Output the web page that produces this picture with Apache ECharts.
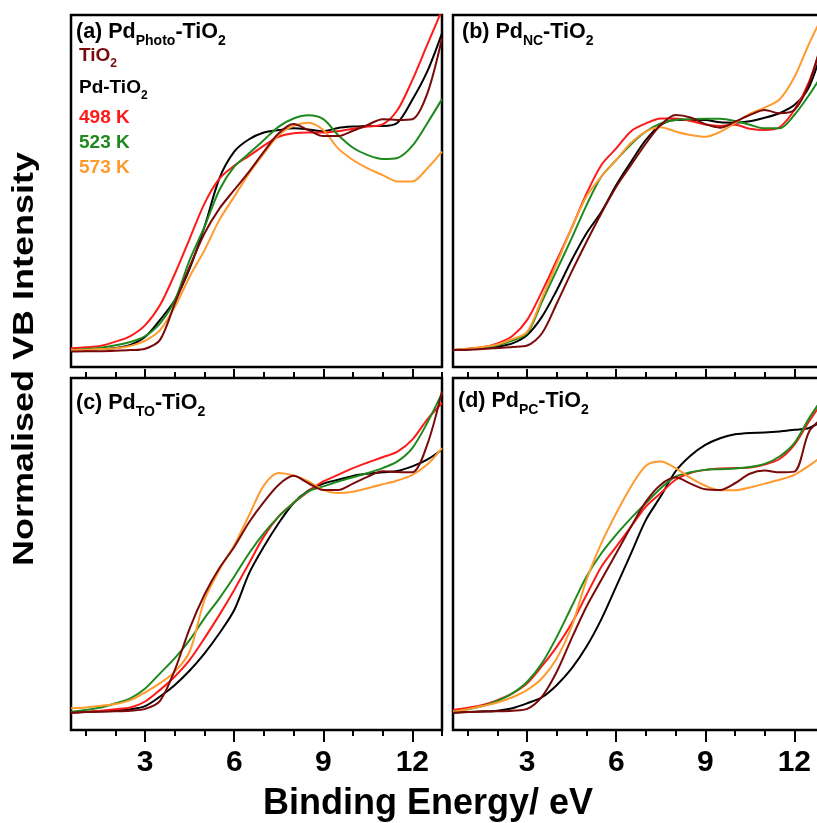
<!DOCTYPE html>
<html>
<head>
<meta charset="utf-8">
<script src="https://cdn.jsdelivr.net/npm/echarts@6.0.0/dist/echarts.min.js"></script>
<style>
  html, body { margin: 0; padding: 0; background: #fff; }
  #chart { width: 817px; height: 823px; }
</style>
</head>
<body>
<div id="chart"></div>
<script>
// binding energy grid (eV), shared by all panels
var energy = [0.5, 1, 1.5, 2, 2.5, 3, 3.5, 4, 4.5, 5, 5.5, 6, 6.5, 7, 7.5, 8, 8.5, 9, 9.5, 10, 10.5, 11, 11.5, 12, 12.5, 13]

// (a) Pd Photo
var aTiO2   = [4.4, 4.5, 4.5, 4.6, 4.8, 5.2, 7.7, 18.1, 28.5, 38, 45, 50.3, 55.5, 61.2, 66.4, 69, 67.3, 65.6, 65.6, 67.1, 68.8, 70.4, 70.2, 70.4, 77.6, 93.4]
var aPdTiO2 = [4.8, 4.9, 5.1, 5.4, 6.3, 8.6, 13.4, 19, 28, 39.9, 53.6, 61.2, 64.7, 66.6, 67.3, 67.8, 67.5, 67, 67.9, 68.3, 68.5, 68.5, 69.4, 75.9, 83.9, 94.8]
var a498    = [5.3, 5.6, 6, 7.2, 8.8, 11.9, 17.6, 26.5, 36.5, 46.5, 53.5, 57.2, 60, 62.9, 65.4, 66.4, 66.6, 66.6, 67, 67.7, 68.3, 68.9, 73, 81.5, 91.5, 101.4]
var a523    = [4.8, 5.1, 5.5, 6.2, 7.1, 8.8, 12.4, 19, 30.4, 39.9, 50.3, 56.9, 60.7, 64.5, 68.3, 70.6, 71.5, 70.4, 65.9, 62.3, 60.2, 59.1, 59.4, 62.8, 69.2, 76.1]
var a573    = [4.8, 4.9, 5.1, 5.3, 6, 7.5, 10.5, 17.1, 25.7, 33.2, 41.8, 48.4, 55, 60.7, 65.9, 68.5, 69.4, 67.3, 62.1, 58.8, 56.4, 54.5, 52.7, 52.7, 56.4, 61.2]

// (b) Pd NC
var bTiO2   = [4.8, 4.9, 5.1, 5.4, 5.7, 6.1, 9.6, 18.1, 27.1, 35.6, 43.7, 51.2, 57.4, 63.5, 68.8, 71.6, 70.9, 69, 68, 69.7, 71.6, 73, 72.1, 73, 80.6, 94.8]
var bPdTiO2 = [4.8, 5, 5.3, 5.8, 6.7, 9.1, 14.3, 21.9, 30.4, 38, 44.1, 51.7, 58.3, 64.5, 68.8, 70.2, 70.2, 70.2, 69.5, 69.4, 69.8, 70.8, 72.1, 74.4, 79.6, 92]
var b498    = [4.8, 5.2, 5.6, 6.7, 8.8, 13.4, 21.5, 30.4, 39.5, 49.3, 57.4, 62.1, 67, 69.2, 70.6, 70.6, 69.9, 68.9, 68.5, 68.8, 67.7, 67.3, 68.1, 73, 81.1, 93.8]
var b523    = [4.8, 5.1, 5.5, 6.2, 7.5, 9.6, 18.6, 27.6, 36.6, 46, 54.1, 58.8, 63.3, 66.9, 69.2, 70.2, 70.4, 70.5, 70.5, 69.9, 68.8, 67.8, 67.8, 71.6, 77.3, 83.9]
var b573    = [4.8, 5.2, 5.7, 6.4, 7.9, 10, 19.5, 29.5, 39.5, 48.5, 54.1, 58.8, 63.7, 66.9, 68.1, 66.9, 65.9, 65.4, 66.8, 69.3, 71.9, 73.7, 76, 82.3, 91.9, 100.5]

// (c) Pd TO
var cTiO2   = [4.9, 5.1, 5.2, 5.3, 5.5, 6, 8.3, 17.1, 28.9, 38.5, 46, 52, 59, 64.8, 69.7, 72.2, 70.1, 68.2, 68.2, 70, 72, 73.5, 73.3, 73.2, 81, 96.2]
var cPdTiO2 = [4.9, 5.1, 5.3, 5.5, 5.9, 6.8, 9.5, 12.8, 16.9, 21.8, 27.5, 34.1, 44.5, 52.1, 58.8, 64.5, 68, 70, 71.1, 72.2, 72.8, 73.2, 73.6, 74.9, 76.8, 79.6]
var c498    = [4.9, 5.2, 5.5, 5.9, 6.4, 8.1, 11.4, 15.2, 19.9, 26.1, 32.7, 39.8, 47.4, 55, 60.7, 64.5, 67.8, 70.6, 72.5, 74.4, 76, 77.5, 79.1, 82.5, 88.2, 92.9]
var c523    = [5.2, 5.7, 6.4, 7.6, 9, 11.8, 16.1, 20.4, 25.6, 31.8, 37.4, 43.6, 50.2, 55.9, 60.7, 64.5, 67.8, 69.2, 70.6, 71.8, 73, 74.4, 76.3, 80.1, 87.2, 95.7]
var c573    = [6.2, 6.4, 6.9, 7.4, 8.5, 10.7, 13.3, 16.6, 22.3, 37, 45.5, 52.5, 61, 69.5, 73, 72.3, 70.6, 68.2, 67.3, 67.7, 68.7, 69.8, 70.9, 72.5, 75.4, 80.1]

// (d) Pd PC
var dTiO2   = [4.9, 5.1, 5.2, 5.3, 5.5, 6, 9.5, 16.6, 26.1, 35.1, 42.7, 50.2, 57.8, 64.9, 69.7, 71.8, 70, 68.4, 68.2, 70.1, 72.8, 73.7, 73.2, 73.4, 84.8, 89]
var dPdTiO2 = [4.9, 5.1, 5.3, 5.5, 6.2, 7.6, 9.3, 12.8, 17.5, 23.7, 31.5, 40.8, 50.2, 59.7, 66.4, 73.5, 77.9, 81, 82.9, 84, 84.4, 84.5, 84.8, 85.3, 85.8, 88.2]
var d498    = [5.7, 6.3, 7.1, 8.5, 10.4, 13.3, 18.2, 23.7, 30.3, 38.4, 46.4, 52.1, 57.8, 63.5, 67.3, 71.1, 73, 73.9, 74.3, 74.4, 74.6, 75.4, 77, 81, 87.7, 93.8]
var d523    = [5.2, 5.9, 6.8, 8.3, 10.4, 13.7, 19, 26.5, 35.1, 43.6, 50.2, 55.5, 60.2, 64.5, 68.7, 72, 73.2, 73.9, 74.1, 74.3, 74.7, 75.6, 77.7, 81.5, 88.6, 94.8]
var d573    = [5.2, 5.9, 6.8, 7.8, 9.3, 11.4, 14.7, 20.4, 29.4, 42.7, 53.1, 61.6, 69.2, 75.1, 76.3, 74.4, 71.6, 69.4, 68.1, 68.1, 68.9, 70, 71.1, 72.5, 75.1, 78.2]

var seriesNames = ["TiO2", "Pd-TiO2", "498 K", "523 K", "573 K"]
var majorTicks = [3, 6, 9, 12]
var minorTicks = [1, 2, 4, 5, 7, 8, 10, 11, 13]

var panelData = [
    [aPdTiO2, a498, a523, a573, aTiO2],
    [bPdTiO2, b498, b523, b573, bTiO2],
    [cPdTiO2, c498, c523, c573, cTiO2],
    [dPdTiO2, d498, d523, d573, dTiO2]
]
var panelOrder = [1, 2, 3, 4, 0]   // index into seriesNames, same order as panelData rows
var colors = ["#7a0a0a", "#000000", "#ff1a1a", "#1e8a1e", "#ff9a2e"]

var FONT = '"Liberation Sans", Arial, sans-serif'
var boxes = [[71, 15], [453, 15], [71, 378], [453, 378]]
var boxW = 371, boxH = 352

var chart = echarts.init(document.getElementById("chart"))

var grids = [], xAxes = [], yAxes = [], series = []

function tickAxis(gi, pos, values, len, labels) {
    xAxes.push({
        gridIndex: gi, type: "value", min: 0.5, max: 13, position: pos,
        axisLine: { show: false },
        splitLine: { show: false },
        axisTick: { show: len > 0, inside: false, length: len, customValues: values,
            lineStyle: { color: "#000", width: 2 } },
        axisLabel: labels ? { show: true, customValues: values, margin: 18,
            fontFamily: FONT, fontWeight: "bold", fontSize: 30, color: "#000" } : { show: false }
    })
    return xAxes.length - 1
}

for (var i = 0; i < 4; i++) {
    grids.push({
        left: boxes[i][0], top: boxes[i][1], width: boxW, height: boxH,
        show: true, borderColor: "#000", borderWidth: 2.5, backgroundColor: "transparent",
        outerBoundsMode: "none"
    })
    var lower = i >= 2
    var baseAxis = tickAxis(i, "bottom", majorTicks, lower ? 12 : 0, lower)
    if (lower) {
        tickAxis(i, "bottom", minorTicks, 6, false)
        tickAxis(i, "top", majorTicks, 9, false)
        tickAxis(i, "top", minorTicks, 6, false)
    }
    yAxes.push({ gridIndex: i, type: "value", min: 0, max: 100, show: false })

    for (var s = 0; s < 5; s++) {
        var vals = panelData[i][s]
        var k = panelOrder[s]
        series.push({
            name: seriesNames[k],
            type: "line",
            xAxisIndex: baseAxis,
            yAxisIndex: i,
            data: energy.map(function (x, j) { return [x, vals[j]] }),
            showSymbol: false,
            symbol: "none",
            smooth: 0.3,
            clip: true,
            lineStyle: { color: colors[k], width: 2 },
            itemStyle: { color: colors[k] }
        })
    }
}

function richLabel(x, y, text, size, color) {
    return {
        type: "text", x: x, y: y, z: 100,
        style: {
            text: text,
            font: "bold " + size + "px " + FONT,
            fill: color,
            textVerticalAlign: "top",
            lineHeight: size + 4,
            rich: {
                s: { fontFamily: FONT, fontWeight: "bold", fontSize: Math.round(size * 0.65),
                    fill: color, lineHeight: size + 4, padding: [Math.round(size * 0.9), 0, 0, 0] }
            }
        }
    }
}

var graphics = [
    richLabel(76, 19, "(a) Pd{s|Photo}-TiO{s|2}", 21.5, "#000"),
    richLabel(462, 19, "(b) Pd{s|NC}-TiO{s|2}", 21.5, "#000"),
    richLabel(76, 390, "(c) Pd{s|TO}-TiO{s|2}", 21.5, "#000"),
    richLabel(458, 388, "(d) Pd{s|PC}-TiO{s|2}", 21.5, "#000"),
    richLabel(79, 44, "TiO{s|2}", 19, colors[0]),
    richLabel(79, 76, "Pd-TiO{s|2}", 19, colors[1]),
    richLabel(79, 106, "498 K", 19, colors[2]),
    richLabel(79, 131, "523 K", 19, colors[3]),
    richLabel(79, 156, "573 K", 19, colors[4]),
    {
        type: "text", x: 428, y: 804,
        style: { text: "Binding Energy/ eV", font: "bold 36px " + FONT, fill: "#000",
            textAlign: "center", textVerticalAlign: "middle" }
    },
    {
        type: "text", x: 25, y: 359, rotation: Math.PI / 2, scaleY: 0.82,
        style: { text: "Normalised VB Intensity", font: "bold 36px " + FONT, fill: "#000",
            textAlign: "center", textVerticalAlign: "middle" }
    }
]

var option = {
    animation: false,
    backgroundColor: "#fff",
    grid: grids,
    xAxis: xAxes,
    yAxis: yAxes,
    series: series,
    graphic: graphics
}
chart.setOption(option)
</script>
</body>
</html>
